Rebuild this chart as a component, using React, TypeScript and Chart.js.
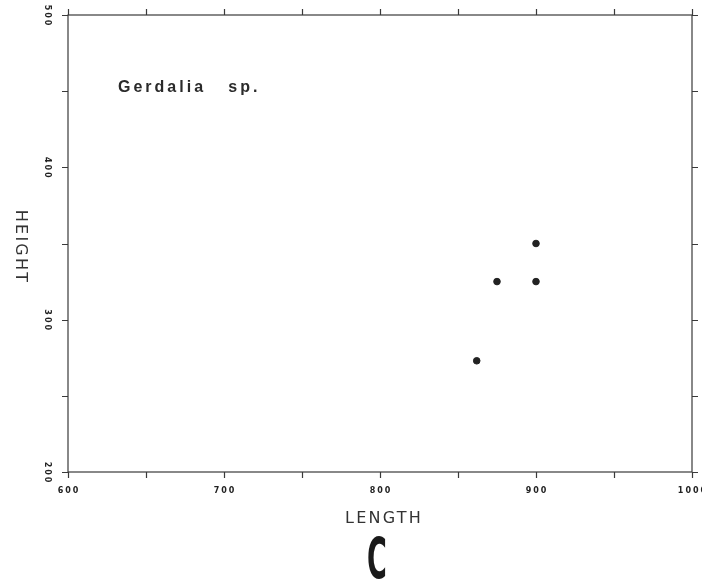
import React, { useEffect, useRef } from "react";
import { Chart, registerables } from "chart.js";

Chart.register(...registerables);

const lengthValues = [862, 875, 900, 900];
const heightValues = [273, 325, 325, 350];
const xTickLabels = [600, 700, 800, 900, 1000];
const yTickLabels = [200, 300, 400, 500];
const xMinorTicks = [600, 650, 700, 750, 800, 850, 900, 950, 1000];
const yMinorTicks = [200, 250, 300, 350, 400, 450, 500];
const speciesLabel = "Gerdalia   sp.";
const xTitle = "LENGTH";
const yTitle = "HEIGHT";
const panelLetter = "C";

const framePlugin = {
  id: "framePlugin",
  afterDraw(chart: any) {
    const ctx = chart.ctx as CanvasRenderingContext2D;
    const xs = chart.scales.x;
    const ys = chart.scales.y;
    const { left, right, top, bottom } = chart.chartArea;
    ctx.save();
    // frame
    ctx.strokeStyle = "#3a3a3a";
    ctx.lineWidth = 1.2;
    ctx.strokeRect(left, top, right - left, bottom - top);
    // ticks outward
    const tl = 6;
    ctx.beginPath();
    xMinorTicks.forEach((v) => {
      const px = Math.round(xs.getPixelForValue(v)) + 0.5;
      ctx.moveTo(px, bottom);
      ctx.lineTo(px, bottom + tl);
      ctx.moveTo(px, top);
      ctx.lineTo(px, top - tl);
    });
    yMinorTicks.forEach((v) => {
      const py = Math.round(ys.getPixelForValue(v)) + 0.5;
      ctx.moveTo(left, py);
      ctx.lineTo(left - tl, py);
      ctx.moveTo(right, py);
      ctx.lineTo(right + tl, py);
    });
    ctx.stroke();

    // tick labels
    ctx.fillStyle = "#222";
    ctx.font = "bold 8px 'DejaVu Sans', sans-serif";
    (ctx as any).letterSpacing = "2px";
    ctx.textAlign = "center";
    ctx.textBaseline = "middle";
    xTickLabels.forEach((v) => {
      const px = xs.getPixelForValue(v);
      ctx.fillText(String(v), px + 1, bottom + 19);
    });
    yTickLabels.forEach((v) => {
      const py = ys.getPixelForValue(v);
      ctx.save();
      ctx.translate(47, py);
      ctx.rotate(Math.PI / 2);
      ctx.fillText(String(v), 1, 0);
      ctx.restore();
    });

    // axis titles
    ctx.fillStyle = "#333";
    ctx.font = "16px 'DejaVu Sans', sans-serif";
    (ctx as any).letterSpacing = "2.2px";
    ctx.fillText(xTitle, 384, 519);
    ctx.save();
    ctx.translate(20, 246);
    ctx.rotate(Math.PI / 2);
    ctx.fillText(yTitle, 1, 0);
    ctx.restore();

    // species label
    ctx.fillStyle = "#2a2a2a";
    ctx.font = "bold 16px 'Liberation Sans', Arial, sans-serif";
    (ctx as any).letterSpacing = "3px";
    ctx.textAlign = "left";
    ctx.textBaseline = "alphabetic";
    ctx.fillText(speciesLabel, 118, 92);

    // panel letter
    (ctx as any).letterSpacing = "0px";
    ctx.save();
    ctx.translate(377, 579);
    ctx.scale(0.45, 0.95);
    ctx.fillStyle = "#1a1a1a";
    ctx.font = "bold 60px 'DejaVu Sans', sans-serif";
    ctx.textAlign = "center";
    ctx.fillText(panelLetter, 0, 0);
    ctx.restore();

    ctx.restore();
  },
};

export default function App() {
  const ref = useRef<HTMLCanvasElement | null>(null);
  useEffect(() => {
    if (!ref.current) return;
    const chart = new Chart(ref.current, {
      type: "scatter",
      data: {
        datasets: [
          {
            data: lengthValues.map((x, i) => ({ x, y: heightValues[i] })),
            backgroundColor: "#222",
            borderColor: "#222",
            pointRadius: 3.3,
            pointHoverRadius: 3.3,
          },
        ],
      },
      options: {
        responsive: false,
        animation: false,
        devicePixelRatio: 1,
        layout: { padding: { left: 68, top: 15, right: 10, bottom: 116 } },
        plugins: { legend: { display: false }, tooltip: { enabled: false } },
        scales: {
          x: { type: "linear", min: 600, max: 1000, display: false },
          y: { type: "linear", min: 200, max: 500, display: false },
        },
      },
      plugins: [framePlugin],
    });
    return () => chart.destroy();
  }, []);
  return (
    <div style={{ position: "fixed", left: 0, top: 0, width: 702, height: 588, background: "#fff" }}>
      <canvas ref={ref} width={702} height={588} />
    </div>
  );
}
